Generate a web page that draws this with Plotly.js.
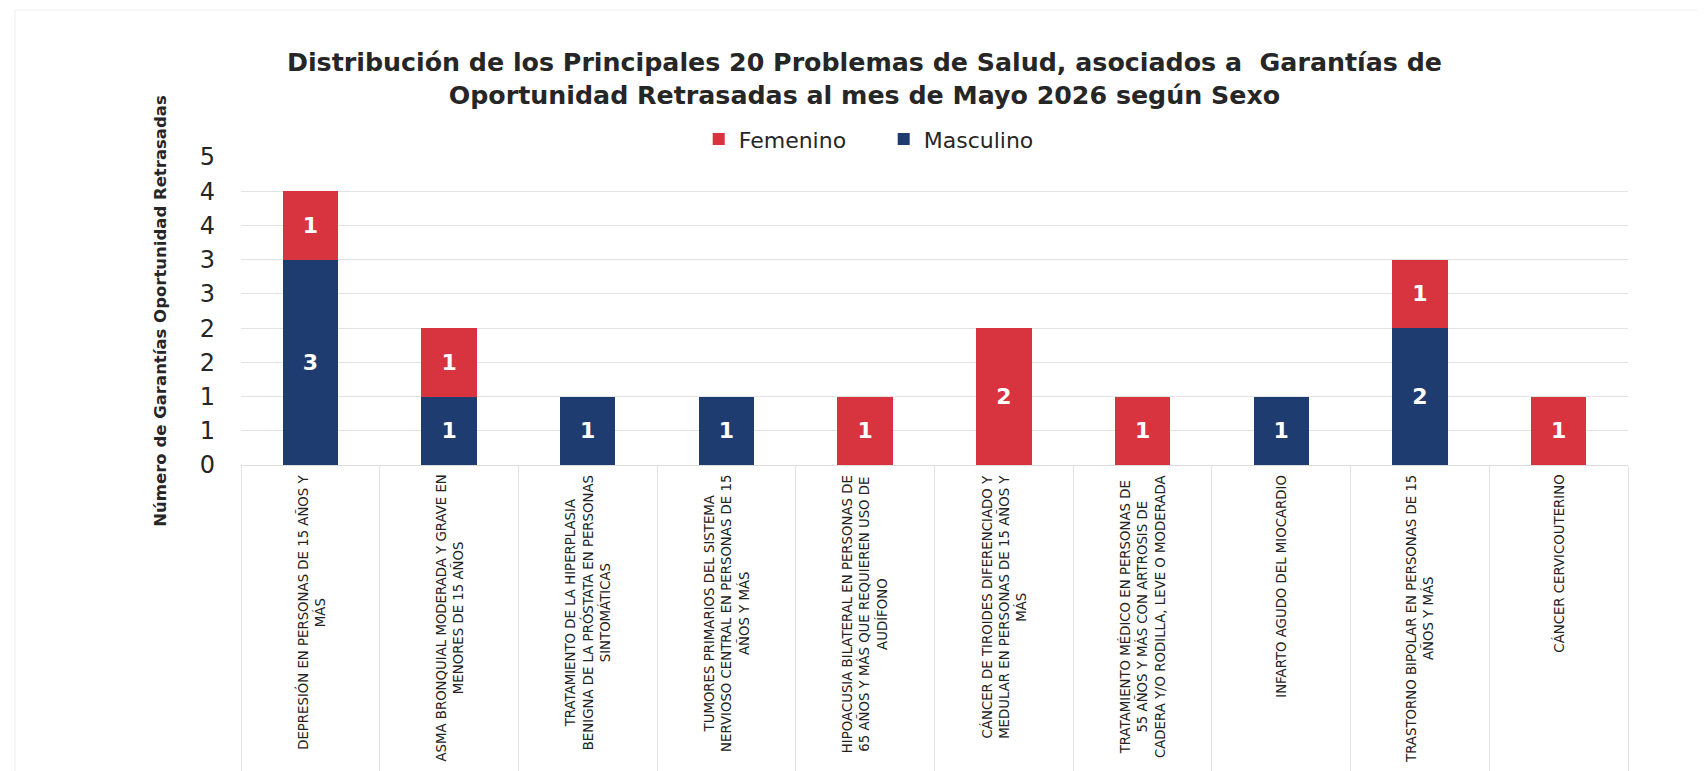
<!DOCTYPE html>
<html>
<head>
<meta charset="utf-8">
<script src="https://cdn.plot.ly/plotly-3.0.1.min.js"></script>
<style>
  html, body { margin: 0; padding: 0; background: #ffffff; }
  #chart { width: 1705px; height: 771px; }
</style>
</head>
<body>
<div id="chart"></div>
<script>
// ---- Data ----
const categories = [
  "DEPRESIÓN EN PERSONAS DE 15 AÑOS Y<br>MÁS",
  "ASMA BRONQUIAL MODERADA Y GRAVE EN<br>MENORES DE 15 AÑOS",
  "TRATAMIENTO DE LA HIPERPLASIA<br>BENIGNA DE LA PRÓSTATA EN PERSONAS<br>SINTOMÁTICAS",
  "TUMORES PRIMARIOS DEL SISTEMA<br>NERVIOSO CENTRAL EN PERSONAS DE 15<br>AÑOS Y MÁS",
  "HIPOACUSIA BILATERAL EN PERSONAS DE<br>65 AÑOS Y MÁS QUE REQUIEREN USO DE<br>AUDÍFONO",
  "CÁNCER DE TIROIDES DIFERENCIADO Y<br>MEDULAR EN PERSONAS DE 15 AÑOS Y<br>MÁS",
  "TRATAMIENTO MÉDICO EN PERSONAS DE<br>55 AÑOS Y MÁS CON ARTROSIS DE<br>CADERA Y/O RODILLA, LEVE O MODERADA",
  "INFARTO AGUDO DEL MIOCARDIO",
  "TRASTORNO BIPOLAR EN PERSONAS DE 15<br>AÑOS Y MÁS",
  "CÁNCER CERVICOUTERINO"
];
const masculino = [3, 1, 1, 1, 0, 0, 0, 1, 2, 0];
const femenino  = [1, 1, 0, 0, 1, 2, 1, 0, 1, 1];

const yTickVals = [0, 0.5, 1, 1.5, 2, 2.5, 3, 3.5, 4, 4.5];
const yTickText = ["0", "1", "1", "2", "2", "3", "3", "4", "4", "5"];

const titleText = "Distribución de los Principales 20 Problemas de Salud, asociados a  Garantías de<br>Oportunidad Retrasadas al mes de Mayo 2026 según Sexo";
const yTitleText = "Número de Garantías Oportunidad Retrasadas";

// ---- Styles ----
const RED = "#d7343f";
const BLUE = "#1f3c70";
const FONT = "DejaVu Sans, Verdana, sans-serif";

const labelOf = v => (v ? String(v) : "");

const traces = [
  {
    type: "bar",
    name: "Masculino",
    x: categories,
    y: masculino,
    marker: { color: BLUE },
    text: masculino.map(labelOf),
    textposition: "inside",
    insidetextanchor: "middle",
    constraintext: "none",
    textfont: { family: FONT, size: 22, color: "#ffffff", weight: 700 },
    hoverinfo: "skip"
  },
  {
    type: "bar",
    name: "Femenino",
    x: categories,
    y: femenino,
    marker: { color: RED },
    text: femenino.map(labelOf),
    textposition: "inside",
    insidetextanchor: "middle",
    constraintext: "none",
    textfont: { family: FONT, size: 22, color: "#ffffff", weight: 700 },
    hoverinfo: "skip"
  }
];

const labelAnnotations = categories.map(c => ({
  x: c,
  xref: "x",
  y: 0,
  yref: "y",
  yanchor: "top",
  xanchor: "center",
  yshift: -8,
  text: c,
  textangle: -90,
  align: "center",
  showarrow: false,
  font: { family: FONT, size: 13.3, color: "#222222" }
}));

const layout = {
  width: 1705,
  height: 771,
  paper_bgcolor: "#ffffff",
  plot_bgcolor: "#ffffff",
  margin: { l: 241, r: 77, t: 157, b: 306, pad: 0 },
  barmode: "stack",
  bargap: 0.6,
  font: { family: FONT, color: "#222222" },
  title: {
    text: titleText,
    font: { family: FONT, size: 25.3, color: "#262626", weight: 700 },
    x: 0.507,
    xref: "container",
    xanchor: "center",
    y: 0.908,
    yref: "container",
    yanchor: "top"
  },
  showlegend: true,
  legend: {
    orientation: "h",
    traceorder: "reversed",
    x: 0.330,
    xanchor: "left",
    y: 1.058,
    yanchor: "middle",
    entrywidth: 140,
    font: { family: FONT, size: 22, color: "#262626" },
    itemclick: false
  },
  xaxis: {
    type: "category",
    showticklabels: false,
    showgrid: false,
    showline: true,
    linecolor: "#dcdcdc",
    linewidth: 1,
    ticks: "outside",
    tickson: "boundaries",
    ticklen: 306,
    tickcolor: "#e2e2e2",
    tickwidth: 1,
    fixedrange: true
  },
  yaxis: {
    range: [0, 4.5],
    tickmode: "array",
    tickvals: yTickVals,
    ticktext: yTickText,
    tickfont: { family: FONT, size: 24, color: "#262626" },
    ticklabelstandoff: 25,
    showgrid: true,
    gridcolor: "#e3e3e3",
    gridwidth: 1,
    zeroline: false,
    showline: false,
    ticks: "",
    title: {
      text: yTitleText,
      font: { family: FONT, size: 16.5, color: "#262626", weight: 700 },
      standoff: 28
    },
    fixedrange: true
  },
  annotations: labelAnnotations,
  shapes: [
    { type: "line", xref: "paper", yref: "paper", x0: -0.163, x1: 1.05, y0: 1.477, y1: 1.477,
      line: { color: "#eeeeee", width: 1 } },
    { type: "line", xref: "paper", yref: "paper", x0: -0.163, x1: -0.163, y0: -1.0, y1: 1.477,
      line: { color: "#eeeeee", width: 1 } }
  ]
};

Plotly.newPlot("chart", traces, layout, { displayModeBar: false, staticPlot: true });
</script>
</body>
</html>
